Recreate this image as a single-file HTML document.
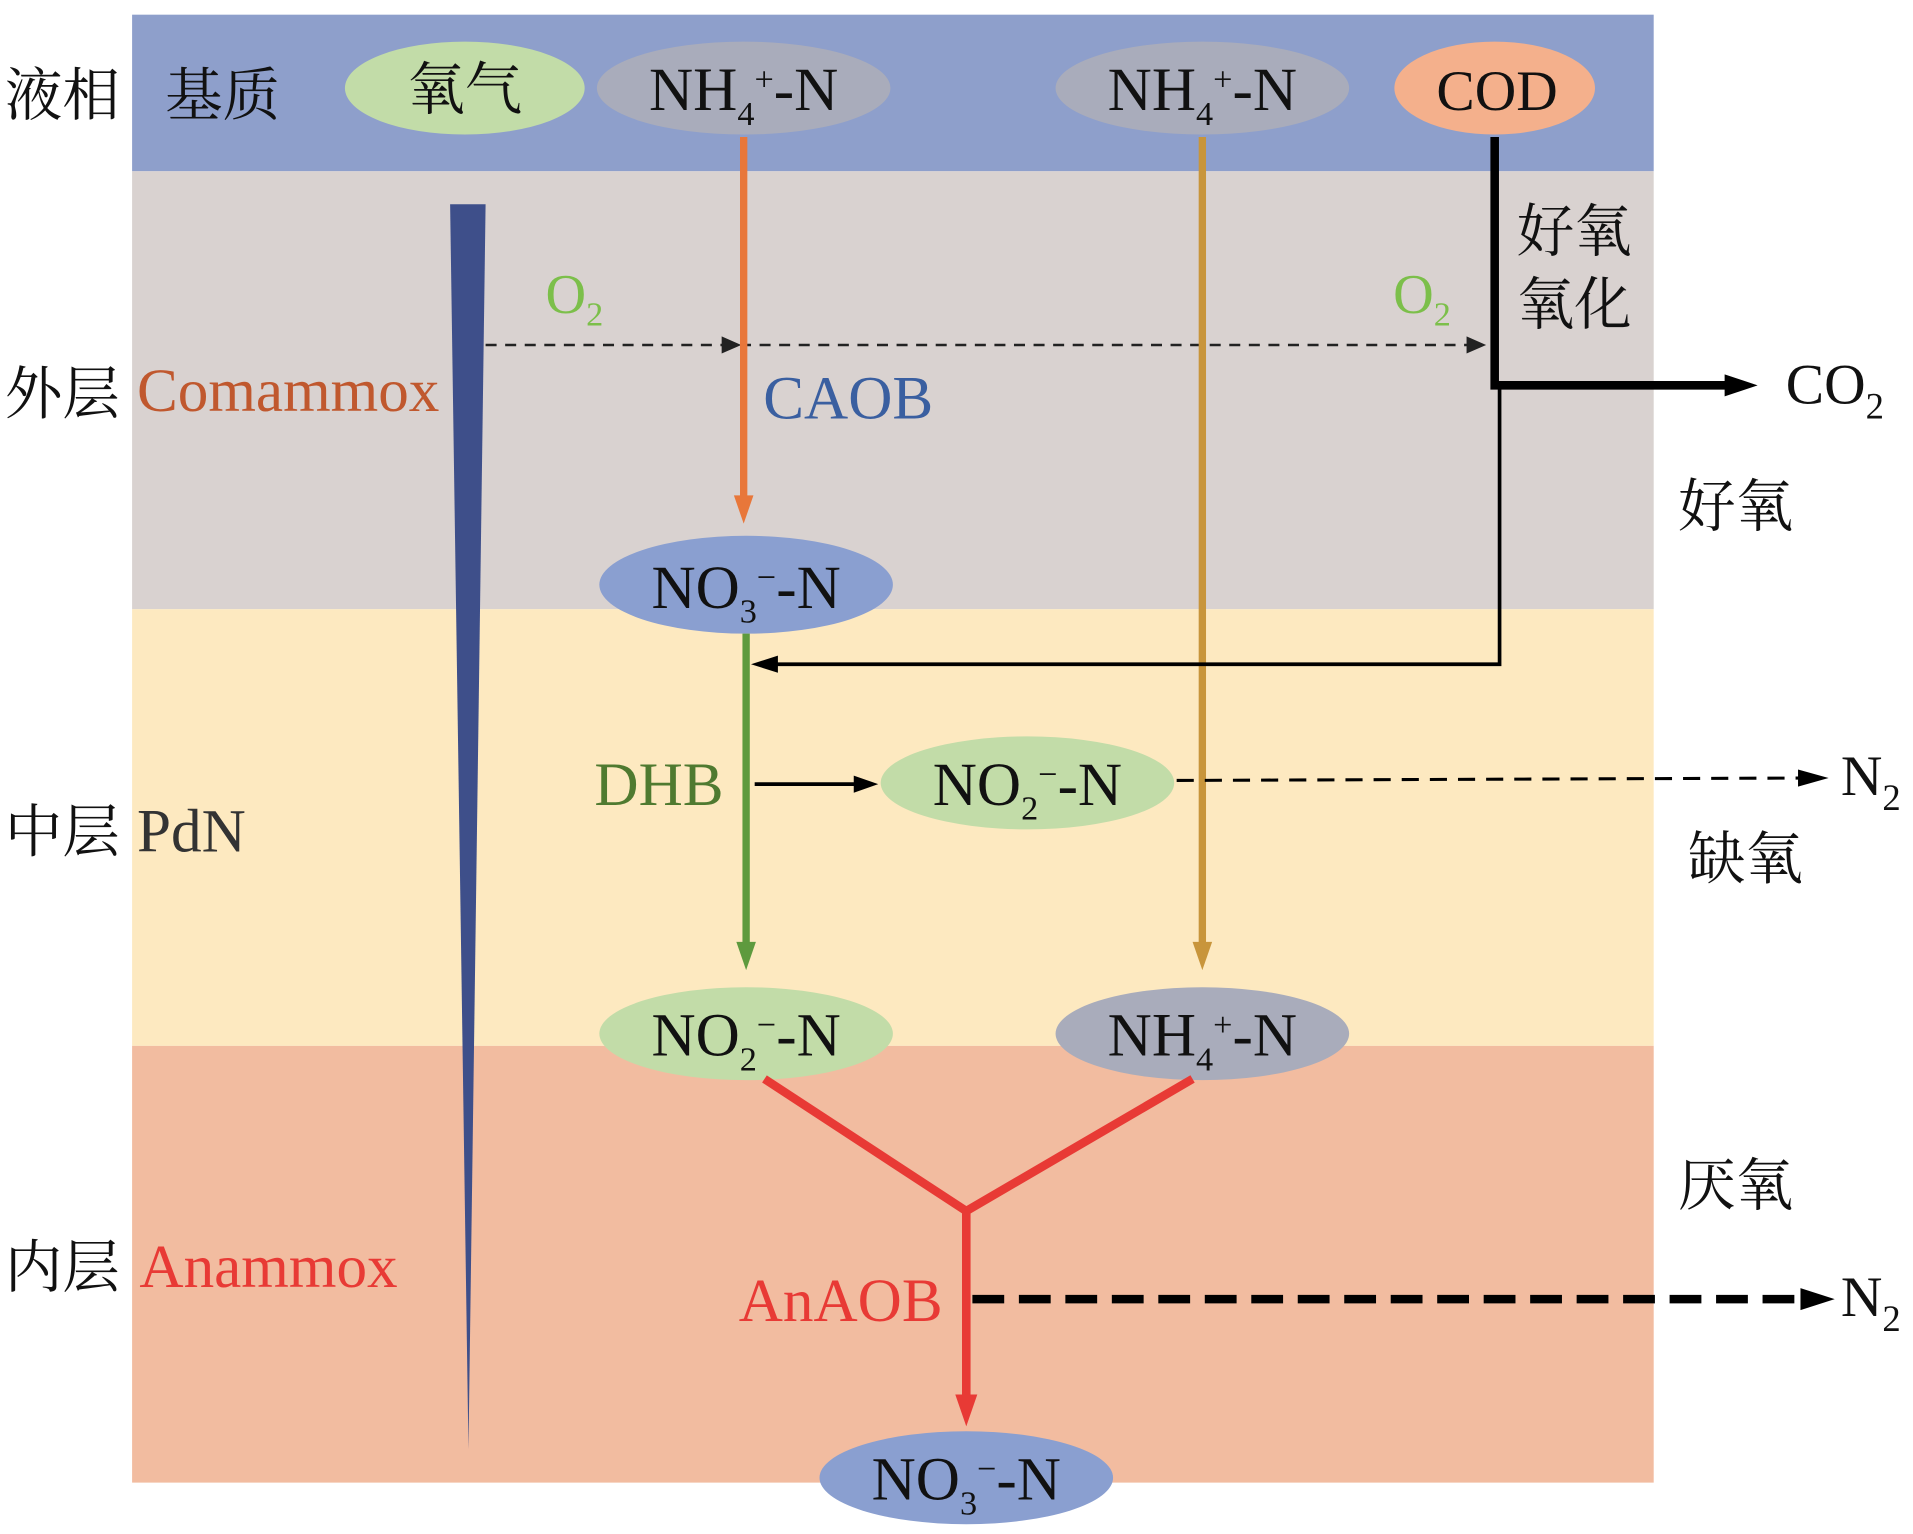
<!DOCTYPE html>
<html><head><meta charset="utf-8"><style>
html,body{margin:0;padding:0;background:#fff;}
svg{display:block;}
text{font-family:"Liberation Serif","Noto Serif CJK SC",serif;}
</style></head><body>
<svg width="1913" height="1534" viewBox="0 0 1564 1254" preserveAspectRatio="none" xmlns="http://www.w3.org/2000/svg">
<rect x="0" y="0" width="1564" height="1254" fill="#fff"/>
<rect x="108" y="12" width="1244" height="128" fill="#8e9fcb"/>
<rect x="108" y="140" width="1244" height="358" fill="#d9d2d0"/>
<rect x="108" y="498" width="1244" height="357" fill="#fde9c0"/>
<rect x="108" y="855" width="1244" height="357" fill="#f2bca0"/>

<g font-size="47" fill="#111">
<text x="4" y="94">液相</text><text x="135" y="94">基质</text>
<text x="4" y="338">外层</text><text x="4" y="696">中层</text><text x="4" y="1052">内层</text>
<text x="1240" y="205">好氧</text><text x="1240" y="265">氧化</text>
<text x="1372" y="430">好氧</text><text x="1380" y="718">缺氧</text><text x="1372" y="985">厌氧</text>
</g>
<g font-size="50">
<text x="112" y="336" fill="#c0582e">Comammox</text>
<text x="112" y="696" fill="#333">PdN</text>
<text x="114" y="1052" fill="#e83a35">Anammox</text>
</g>

<ellipse cx="380" cy="72" rx="98" ry="38" fill="#c2dca8"/>
<ellipse cx="608" cy="72" rx="120" ry="38" fill="#a9acbb"/>
<ellipse cx="983" cy="72" rx="120" ry="38" fill="#a9acbb"/>
<ellipse cx="1222" cy="72" rx="82" ry="38" fill="#f4b08c"/>
<g font-size="47" fill="#111" text-anchor="middle">
<text x="380" y="89">氧气</text>
<text x="1224" y="90">COD</text>
</g>

<polygon points="368,167 397,167 383,1185" fill="#3e4f8a"/>

<line x1="397" y1="282" x2="1212" y2="282" stroke="#222" stroke-width="2" stroke-dasharray="9,7"/>
<path d="M590,275 L606,282 L590,289 z" fill="#222"/>
<path d="M1199,275 L1215,282 L1199,289 z" fill="#222"/>
<g font-size="46" fill="#7cbf4a">
<text x="446" y="256">O<tspan font-size="28" dy="10">2</tspan></text>
<text x="1139" y="256">O<tspan font-size="28" dy="10">2</tspan></text>
</g>

<line x1="608" y1="112" x2="608" y2="410" stroke="#e8773a" stroke-width="6"/>
<path d="M600,405 L608,428 L616,405 z" fill="#e8773a"/>
<line x1="983" y1="112" x2="983" y2="775" stroke="#c8953b" stroke-width="6"/>
<path d="M975,770 L983,793 L991,770 z" fill="#c8953b"/>

<polyline points="1222,112 1222,315 1420,315" fill="none" stroke="#000" stroke-width="7"/>
<path d="M1410,306 L1437,315 L1410,324 z" fill="#000"/>
<polyline points="1226,315 1226,543 632,543" fill="none" stroke="#000" stroke-width="3"/>
<path d="M636,536 L614,543 L636,550 z" fill="#000"/>
<text x="1460" y="330" font-size="47" fill="#111">CO<tspan font-size="30" dy="12">2</tspan></text>
<text x="624" y="342" font-size="50" fill="#3a5fa0">CAOB</text>

<ellipse cx="610" cy="478" rx="120" ry="40" fill="#8a9fd0"/>
<line x1="610" y1="518" x2="610" y2="775" stroke="#5e9a3e" stroke-width="6"/>
<path d="M602,770 L610,793 L618,770 z" fill="#5e9a3e"/>
<text x="486" y="658" font-size="50" fill="#4f7a30">DHB</text>
<line x1="617" y1="641" x2="702" y2="641" stroke="#000" stroke-width="3"/>
<path d="M698,634 L718,641 L698,648 z" fill="#000"/>
<ellipse cx="840" cy="640" rx="120" ry="38" fill="#c2dca8"/>
<line x1="962" y1="638" x2="1478" y2="636" stroke="#000" stroke-width="2.5" stroke-dasharray="14,9"/>
<path d="M1470,629 L1495,636 L1470,643 z" fill="#000"/>
<text x="1505" y="650" font-size="47" fill="#111">N<tspan font-size="30" dy="12">2</tspan></text>

<ellipse cx="610" cy="845" rx="120" ry="38" fill="#c2dca8"/>
<ellipse cx="983" cy="845" rx="120" ry="38" fill="#a9acbb"/>

<g stroke="#e83a35" stroke-width="7" fill="none">
<line x1="625" y1="882" x2="790" y2="990"/>
<line x1="975" y1="882" x2="790" y2="990"/>
<line x1="790" y1="988" x2="790" y2="1145"/>
</g>
<path d="M781,1140 L790,1166 L799,1140 z" fill="#e83a35"/>
<text x="604" y="1080" font-size="50" fill="#e83a35">AnAOB</text>
<line x1="795" y1="1062" x2="1480" y2="1062" stroke="#000" stroke-width="7" stroke-dasharray="26,12"/>
<path d="M1472,1053 L1500,1062 L1472,1071 z" fill="#000"/>
<text x="1505" y="1076" font-size="47" fill="#111">N<tspan font-size="30" dy="12">2</tspan></text>

<ellipse cx="790" cy="1208" rx="120" ry="38" fill="#8a9fd0"/>

<g font-size="50" fill="#111" text-anchor="middle">
<text x="608" y="90">NH<tspan font-size="28" dy="12">4</tspan><tspan font-size="28" dy="-28">+</tspan><tspan dy="16">-N</tspan></text>
<text x="983" y="90">NH<tspan font-size="28" dy="12">4</tspan><tspan font-size="28" dy="-28">+</tspan><tspan dy="16">-N</tspan></text>
<text x="610" y="497">NO<tspan font-size="28" dy="12">3</tspan><tspan font-size="28" dy="-28">−</tspan><tspan dy="16">-N</tspan></text>
<text x="840" y="658">NO<tspan font-size="28" dy="12">2</tspan><tspan font-size="28" dy="-28">−</tspan><tspan dy="16">-N</tspan></text>
<text x="610" y="863">NO<tspan font-size="28" dy="12">2</tspan><tspan font-size="28" dy="-28">−</tspan><tspan dy="16">-N</tspan></text>
<text x="983" y="863">NH<tspan font-size="28" dy="12">4</tspan><tspan font-size="28" dy="-28">+</tspan><tspan dy="16">-N</tspan></text>
<text x="790" y="1226">NO<tspan font-size="28" dy="12">3</tspan><tspan font-size="28" dy="-28">−</tspan><tspan dy="16">-N</tspan></text>
</g>
</svg>
</body></html>
